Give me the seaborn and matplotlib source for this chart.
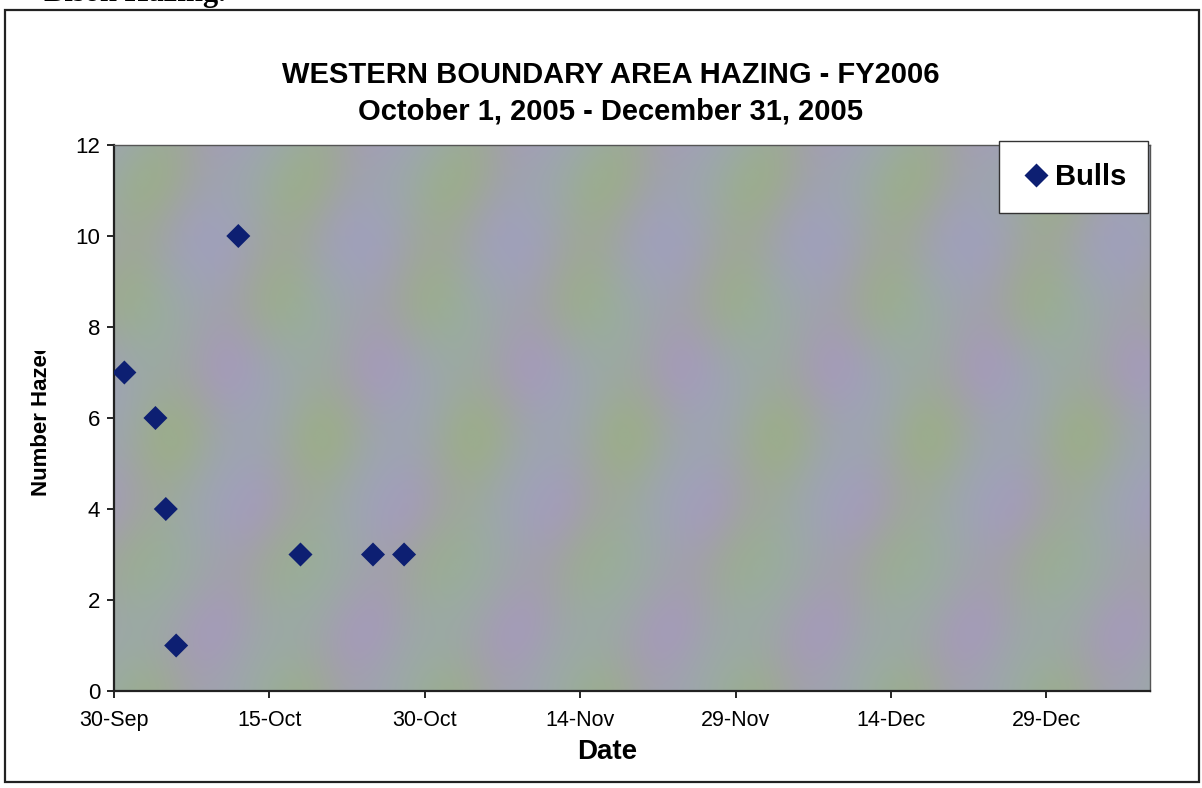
import matplotlib
matplotlib.use("Agg")
import matplotlib.pyplot as plt
from matplotlib.patches import Rectangle
from matplotlib.transforms import Bbox
import seaborn as sns
import pandas as pd
import numpy as np

# ---- data ----
dates = ["2005-10-01", "2005-10-04", "2005-10-05", "2005-10-06",
         "2005-10-12", "2005-10-18", "2005-10-25", "2005-10-28"]
bulls = [7, 6, 4, 1, 10, 3, 3, 3]
x_ticks = ["2005-09-30", "2005-10-15", "2005-10-30", "2005-11-14",
           "2005-11-29", "2005-12-14", "2005-12-29"]
x_tick_labels = ["30-Sep", "15-Oct", "30-Oct", "14-Nov", "29-Nov", "14-Dec", "29-Dec"]
y_ticks = [0, 2, 4, 6, 8, 10, 12]
x_range = ["2005-09-30", "2006-01-08"]
series_name = "Bulls"

df = pd.DataFrame({"Date": pd.to_datetime(dates), "Count": bulls, "Series": series_name})

sns.set_theme(style="white")
plt.rcParams["font.family"] = ["Liberation Sans", "DejaVu Sans"]
plt.rcParams["text.color"] = "black"
plt.rcParams["axes.labelcolor"] = "black"

W, H = 1202, 788
fig = plt.figure(figsize=(W / 100, H / 100), dpi=100)
fig.patch.set_facecolor("white")
ax = fig.add_axes([114 / W, 1 - 691 / H, (1150 - 114) / W, (691 - 145) / H])
ax.set_facecolor("#a5aaa8")

# decorative mottled (plaid-like) texture fill of the plot area (background only)
gx, gy = np.meshgrid(np.linspace(0, 1036, 520), np.linspace(0, 546, 280))
phase = 2 * np.pi * (gx / 152.0 + 0.12 * np.sin(2 * np.pi * gy / 420.0))
mix = np.clip(0.5 + 0.38 * np.sin(phase) + 0.14 * np.sin(2 * np.pi * gy / 130.0), 0, 1)
blue = 0.5 + 0.5 * np.sin(2 * np.pi * (gx / 152.0 + 0.25) + 2 * np.pi * gy / 260.0)
green = np.array([156, 172, 142]) / 255.0
purple = np.array([164, 156, 182]) / 255.0
bluec = np.array([150, 172, 190]) / 255.0
tex = (mix[..., None] * green + (1 - mix[..., None]) * purple)
tex = tex * (1 - 0.3 * blue[..., None]) + 0.3 * blue[..., None] * bluec
ax.imshow(tex, extent=(0, 1, 0, 1), transform=ax.transAxes, aspect="auto",
          origin="upper", zorder=0, interpolation="bilinear")

sns.scatterplot(data=df, x="Date", y="Count", hue="Series", palette=["#0d1f72"],
                marker="D", s=150, edgecolor="none", ax=ax, zorder=3)

ax.set_xlim(pd.to_datetime(x_range[0]), pd.to_datetime(x_range[1]))
ax.set_ylim(0, 12)
ax.set_xticks(pd.to_datetime(x_ticks))
ax.set_xticklabels(x_tick_labels, fontsize=15.5)
ax.set_yticks(y_ticks)
ax.set_yticklabels([str(v) for v in y_ticks], fontsize=16)
ax.tick_params(axis="both", direction="out", length=5, width=1.2, color="black",
               left=True, bottom=True, labelcolor="black")
ax.tick_params(axis="x", pad=9)
ax.tick_params(axis="y", pad=5)

for s in ["left", "bottom"]:
    ax.spines[s].set_color("#222222")
    ax.spines[s].set_linewidth(1.6)
for s in ["top", "right"]:
    ax.spines[s].set_color("#555555")
    ax.spines[s].set_linewidth(1.0)

ax.set_xlabel("Date", fontsize=20, fontweight="bold")
ax.xaxis.set_label_coords((607 - 114) / 1036, (691 - 752) / 546)
ax.xaxis.label.set_va("center")
ax.xaxis.label.set_ha("center")

ylab = ax.set_ylabel("Number Hazed", fontsize=16, fontweight="bold")
ax.yaxis.set_label_coords((42 - 114) / 1036, 0.5)
ylab.set_va("center")
ylab.set_ha("center")
ylab.set_clip_on(True)
ylab.set_clip_box(Bbox.from_extents(0, 0, 120, H - 351))

leg = ax.legend(loc="upper right", bbox_to_anchor=(1148 / W, 1 - 141 / H),
                bbox_transform=fig.transFigure, frameon=True, fancybox=False,
                prop={"weight": "bold", "size": 21}, handletextpad=0.15,
                borderpad=0.75, borderaxespad=0, markerscale=1.0, handlelength=1.0)
leg.get_frame().set_edgecolor("#333333")
leg.get_frame().set_linewidth(1.0)
leg.get_frame().set_facecolor("white")
leg.get_frame().set_alpha(1)

fig.text(611 / W, 1 - 75 / H, "WESTERN BOUNDARY AREA HAZING - FY2006",
         ha="center", va="center", fontsize=21, fontweight="bold")
fig.text(611 / W, 1 - 111 / H, "October 1, 2005 - December 31, 2005",
         ha="center", va="center", fontsize=21, fontweight="bold")

serif = ["Liberation Serif", "DejaVu Serif"]
fig.text(8 / W, 1 + 6 / H, "\u2022", ha="left", va="center",
         fontsize=22, fontweight="bold", family=serif)
fig.text(44 / W, 1 + 6 / H, "Bison Hazing.", ha="left", va="center",
         fontsize=22, fontweight="bold", family=serif)

fig.add_artist(Rectangle((5 / W, 1 - 782 / H), (1199 - 5) / W, (782 - 10) / H,
                         transform=fig.transFigure, fill=False,
                         edgecolor="#222222", linewidth=1.6))

fig.savefig("out.png", dpi=100, facecolor="white")
